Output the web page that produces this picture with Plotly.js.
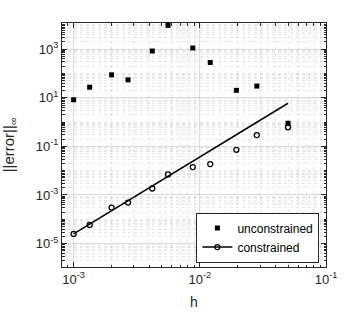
<!DOCTYPE html>
<html>
<head>
<meta charset="utf-8">
<script src="https://cdn.plot.ly/plotly-3.0.1.min.js"></script>
<style>
html,body{margin:0;padding:0;background:#fff;}
#chart{width:360px;height:315px;}
</style>
</head>
<body>
<div id="chart"></div>
<script>
// ---- data ----
var h = [0.001, 0.00134, 0.002, 0.0027, 0.0042, 0.0056, 0.0088, 0.0121, 0.0195, 0.0283, 0.05];
var unconstrained = [8.2, 27, 87, 54, 830, 9400, 1100, 280, 20, 30, 0.89];
var constrained = [2.5e-5, 5.85e-5, 3.05e-4, 4.9e-4, 1.85e-3, 7.0e-3, 0.014, 0.0186, 0.072, 0.29, 0.61];
var fitH = [0.001, 0.05];
var fitErr = [2.5e-5, 5.9];

var xTickVals = [1e-3, 1e-2, 1e-1];
var xTickText = ['10<sup>-3</sup>', '10<sup>-2</sup>', '10<sup>-1</sup>'];
var yTickVals = [1e-5, 1e-3, 1e-1, 1e1, 1e3];
var yTickText = ['10<sup>-5</sup>', '10<sup>-3</sup>', '10<sup>-1</sup>', '10<sup>1</sup>', '10<sup>3</sup>'];

// minor grid positions (axis decoration)
function minorVals(lo, hi, majors) {
  var out = [];
  for (var d = lo; d <= hi; d++) {
    for (var m = 1; m <= 9; m++) {
      var v = m * Math.pow(10, d);
      var isMajor = majors.some(function (t) { return Math.abs(t - v) / v < 1e-9; });
      if (!isMajor) out.push(v);
    }
  }
  return out;
}

var axisColor = '#262626';
var font = 'Liberation Sans, Arial, Helvetica, sans-serif';

var traces = [
  {
    x: h, y: unconstrained, type: 'scatter', mode: 'markers', name: 'unconstrained',
    marker: {symbol: 'square', size: 5, color: '#000'}
  },
  {
    x: h, y: constrained, type: 'scatter', mode: 'markers', name: 'constrained',
    showlegend: false,
    marker: {symbol: 'circle-open', size: 5, color: '#000', line: {width: 1.3, color: '#000'}}
  },
  {
    x: fitH, y: fitErr, type: 'scatter', mode: 'lines', name: 'fit', showlegend: false,
    line: {color: '#000', width: 1.5}
  },
  {
    x: [null], y: [null], type: 'scatter', mode: 'lines+markers', name: 'constrained',
    line: {color: '#000', width: 1.5},
    marker: {symbol: 'circle-open', size: 5, color: '#000', line: {width: 1.3, color: '#000'}}
  }
];

var layout = {
  width: 360, height: 315,
  margin: {l: 62, r: 34, t: 23, b: 48, pad: 0},
  paper_bgcolor: '#fff', plot_bgcolor: '#fff',
  font: {family: font, size: 12, color: axisColor},
  showlegend: true,
  legend: {
    x: 0.975, y: 0.018, xanchor: 'right', yanchor: 'bottom',
    bgcolor: '#fff', bordercolor: axisColor, borderwidth: 1,
    font: {family: font, size: 12, color: '#000'},
    tracegroupgap: 0, itemwidth: 30, traceorder: 'normal'
  },
  xaxis: {
    type: 'log', range: [-3.092, -1.0],
    tickmode: 'array', tickvals: xTickVals, ticktext: xTickText,
    ticks: 'inside', ticklen: 5, tickwidth: 1, tickcolor: axisColor,
    showline: true, linecolor: axisColor, linewidth: 1, mirror: 'ticks',
    showgrid: true, gridcolor: 'rgba(38,38,38,0.16)', gridwidth: 1,
    zeroline: false,
    tickfont: {family: font, size: 13, color: axisColor},
    minor: {
      tickmode: 'array', tickvals: minorVals(-4, -1, xTickVals),
      ticks: 'inside', ticklen: 2.5, tickcolor: axisColor,
      showgrid: true, gridcolor: 'rgba(38,38,38,0.11)', griddash: 'dot', gridwidth: 1
    },
    title: {text: 'h', font: {family: font, size: 14, color: axisColor}, standoff: 11}
  },
  yaxis: {
    type: 'log', range: [-5.96, 4.07],
    tickmode: 'array', tickvals: yTickVals, ticktext: yTickText,
    ticks: 'inside', ticklen: 5, tickwidth: 1, tickcolor: axisColor,
    showline: true, linecolor: axisColor, linewidth: 1, mirror: 'ticks',
    showgrid: true, gridcolor: 'rgba(38,38,38,0.16)', gridwidth: 1,
    zeroline: false,
    tickfont: {family: font, size: 13, color: axisColor},
    minor: {
      tickmode: 'array', tickvals: minorVals(-7, 4, yTickVals),
      ticks: 'inside', ticklen: 2.5, tickcolor: axisColor,
      showgrid: true, gridcolor: 'rgba(38,38,38,0.11)', griddash: 'dot', gridwidth: 1
    },
    title: {text: '||error||<sub>∞</sub>', font: {family: font, size: 15, color: axisColor}, standoff: 21}
  }
};

Plotly.newPlot('chart', traces, layout, {displayModeBar: false, staticPlot: true});
</script>
</body>
</html>
